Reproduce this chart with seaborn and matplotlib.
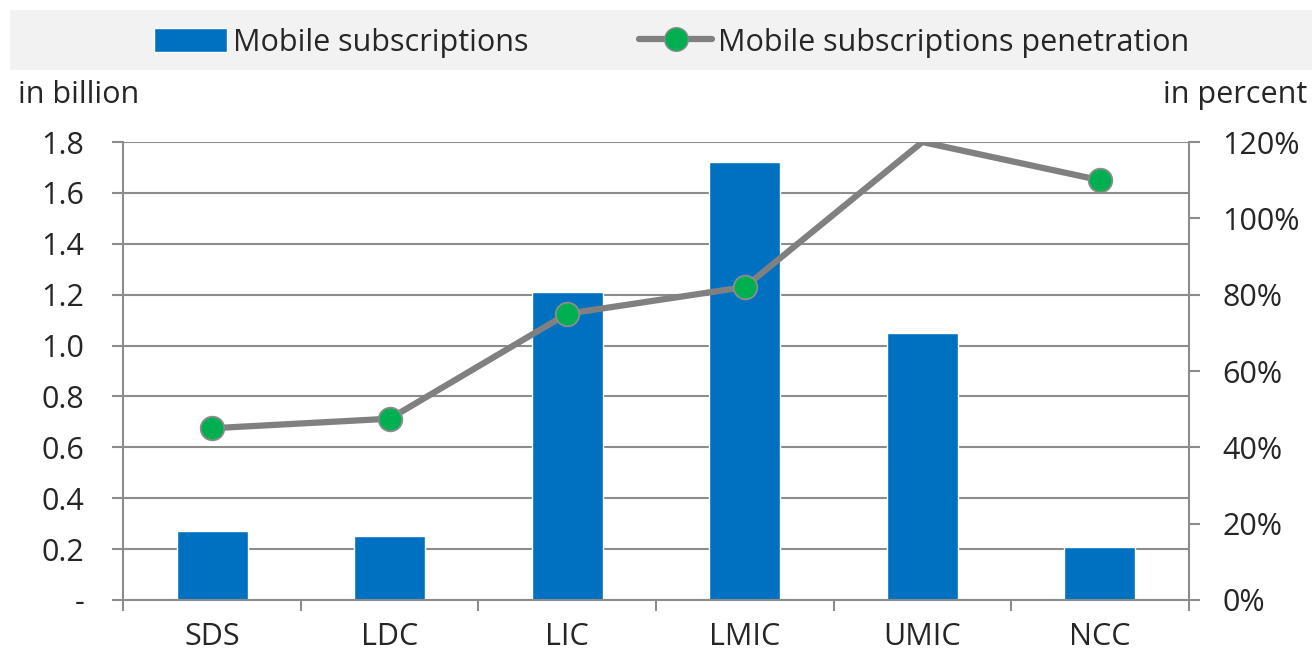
import numpy as np
import pandas as pd
import matplotlib
matplotlib.use("Agg")
import matplotlib.pyplot as plt
from matplotlib.patches import Rectangle
from matplotlib.lines import Line2D
import seaborn as sns

# data
groups = ["SDS", "LDC", "LIC", "LMIC", "UMIC", "NCC"]
subscriptions = [0.27, 0.25, 1.21, 1.72, 1.05, 0.21]     # in billion
penetration = [45, 47.5, 75, 82, 120, 110]                # in percent

sns.set_theme(style="white")
plt.rcParams["font.family"] = ["Open Sans", "DejaVu Sans"]
FS = 22
GRID = "#8c8c8c"

df = pd.DataFrame({"group": groups, "subs": subscriptions, "pen": penetration})

fig = plt.figure(figsize=(13.12, 6.56), dpi=100)
ax = fig.add_axes([0.094, 0.0854, 0.812, 0.6981])

# grey band behind the legend
fig.patches.append(Rectangle((0.008, 0.893), 0.992, 0.092, transform=fig.transFigure,
                             facecolor="#f2f2f2", edgecolor="none", zorder=0))

sns.barplot(data=df, x="group", y="subs", color="#0070c0", width=0.4,
            saturation=1, ax=ax, zorder=2)
ax.set_xlim(-0.5, 5.5)
ax.set_ylim(0, 1.8)
ax.set_yticks(np.arange(0, 1.81, 0.2))
ax.set_yticklabels(["-"] + [f"{v:.1f}" for v in np.arange(0.2, 1.81, 0.2)])
ax.yaxis.grid(True, color=GRID, lw=1.5, zorder=0)
ax.set_axisbelow(True)
ax.set_xlabel("")
ax.set_ylabel("")
ax.set_xticks(np.arange(-0.5, 5.6, 1), minor=True)
ax.tick_params(axis="x", which="major", length=0, pad=16, labelsize=FS)
ax.tick_params(axis="x", which="minor", length=8, width=1.5, color=GRID, direction="out", bottom=True)
ax.tick_params(axis="y", length=8, width=1.5, color=GRID, direction="out", left=True, labelsize=FS, pad=20)
for s in ["top", "right"]:
    ax.spines[s].set_visible(False)
for s in ["left", "bottom"]:
    ax.spines[s].set_color(GRID)
    ax.spines[s].set_linewidth(1.5)

ax2 = ax.twinx()
sns.lineplot(data=df, x="group", y="pen", ax=ax2, color="#808080", lw=4.5,
             marker="o", markersize=17, markerfacecolor="#00b050",
             markeredgecolor="#8c8c8c", markeredgewidth=1.3,
             markevery=[0, 1, 2, 3, 5], zorder=3)
ax2.set_ylim(0, 120)
ax2.set_yticks(np.arange(0, 121, 20))
ax2.set_yticklabels([f"{v}%" for v in range(0, 121, 20)])
ax2.set_ylabel("")
ax2.set_xlim(-0.5, 5.5)
ax2.tick_params(axis="y", length=8, width=1.5, color=GRID, direction="out", right=True, labelsize=FS, pad=16)
for s in ["top", "left", "bottom"]:
    ax2.spines[s].set_visible(False)
ax2.spines["right"].set_color(GRID)
ax2.spines["right"].set_linewidth(1.5)

fig.text(0.014, 0.855, "in billion", fontsize=FS, ha="left", va="center")
fig.text(0.996, 0.855, "in percent", fontsize=FS, ha="right", va="center")

handles = [Rectangle((0, 0), 1, 1, facecolor="#0070c0"),
           Line2D([], [], color="#808080", lw=4.5, marker="o", markersize=17,
                  markerfacecolor="#00b050", markeredgecolor="#8c8c8c")]
fig.legend(handles, ["Mobile subscriptions", "Mobile subscriptions penetration"],
           loc="center", bbox_to_anchor=(0.512, 0.935), ncol=2, frameon=False,
           fontsize=FS, handlelength=2.4, handleheight=0.8, handletextpad=0.2,
           columnspacing=3.6)

fig.savefig("out.png", dpi=100)
